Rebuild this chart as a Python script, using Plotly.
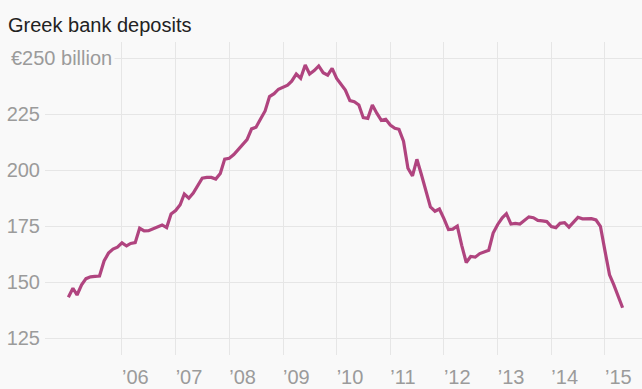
import pandas as pd
import plotly.graph_objects as go

start_month = "2005-01-01"
deposits = [
    143.3, 147.3, 144.3, 148.8, 151.6, 152.4, 152.6, 152.8, 159.5, 163.0, 164.8, 165.7,
    167.6, 166.2, 167.3, 167.7, 174.1, 172.9, 173.0, 174.0, 174.8, 175.6, 174.4, 180.5,
    182.0, 184.6, 189.4, 187.5, 189.8, 193.4, 196.5, 196.8, 196.8, 196.1, 198.6, 205.0,
    205.4, 207.0, 209.0, 211.2, 213.7, 218.5, 219.2, 222.9, 226.5, 232.9, 234.2, 236.2,
    237.1, 238.0, 239.8, 243.0, 241.1, 247.0, 243.0, 244.5, 246.6, 243.6, 242.5, 245.5,
    241.0, 238.5, 235.8, 231.1, 230.6, 229.2, 223.5, 223.2, 229.2, 225.5, 222.3, 222.8,
    220.2, 218.8, 218.3, 213.0, 200.9, 197.5, 204.9, 198.0, 190.5, 183.6, 181.7, 182.7,
    178.4, 173.5, 173.7, 175.1, 166.5, 158.8, 161.5, 161.2, 162.8, 163.6, 164.3, 172.0,
    175.8, 178.8, 180.6, 176.0, 176.3, 176.0, 177.7, 179.2, 178.8, 177.6, 177.4, 177.1,
    174.9, 174.4, 176.3, 176.6, 174.6, 177.1, 179.0, 178.3, 178.4, 178.4, 177.8, 175.0,
    164.0, 153.3, 149.0, 143.5, 138.6,
]
dates = pd.date_range(start_month, periods=len(deposits), freq="MS")

year_ticks = [f"{y}-01-01" for y in range(2006, 2016)]
year_labels = [f"\u2019{str(y)[2:]}" for y in range(2006, 2016)]
y_ticks = [125, 150, 175, 200, 225, 250]
y_labels = ["125", "150", "175", "200", "225", ""]
top_label = "\u20ac250 billion"
title_text = "Greek bank deposits"

BG = "#f9f9f9"
GRID = "#e6e6e6"
TICK = "#9b9b9b"
LINE = "#b0447f"
FONT = "Liberation Sans, Arial, sans-serif"

fig = go.Figure(
    go.Scatter(x=dates, y=deposits, mode="lines",
               line=dict(color=LINE, width=3.2), hoverinfo="skip")
)

fig.update_layout(
    width=642, height=389,
    paper_bgcolor=BG, plot_bgcolor=BG,
    margin=dict(l=45, r=0, t=42, b=34, autoexpand=False),
    showlegend=False,
    font=dict(family=FONT, size=20, color=TICK),
    title=dict(text=title_text, x=8 / 642, xref="container", xanchor="left",
               y=1 - 25 / 389, yref="container", yanchor="middle",
               font=dict(family=FONT, size=20, color="#222222")),
    xaxis=dict(
        type="date", automargin=False,
        range=["2004-07-26", "2015-09-10"],
        tickmode="array", tickvals=year_ticks, ticktext=year_labels,
        showgrid=True, gridcolor=GRID, gridwidth=1,
        zeroline=False, showline=False, ticks="",
        ticklabelposition="outside right",
        ticklabelstandoff=8,
        tickfont=dict(family=FONT, size=20, color=TICK),
    ),
    yaxis=dict(
        automargin=False,
        range=[117.5, 257.3],
        tickmode="array", tickvals=y_ticks, ticktext=y_labels,
        showgrid=True, gridcolor=GRID, gridwidth=1,
        zeroline=False, showline=False, ticks="",
        ticklabelstandoff=4,
        tickfont=dict(family=FONT, size=20, color=TICK),
    ),
    annotations=[
        dict(text=top_label, x=(8 - 45) / 597, xref="paper", xanchor="left",
             y=250, yref="y", yanchor="middle", showarrow=False,
             bgcolor=BG, borderpad=2,
             font=dict(family=FONT, size=20, color=TICK)),
    ],
)

fig.write_html(
    "out.html",
    config={"displayModeBar": False},
    post_script="document.body.style.margin='0';document.body.style.background='#f9f9f9';",
)
